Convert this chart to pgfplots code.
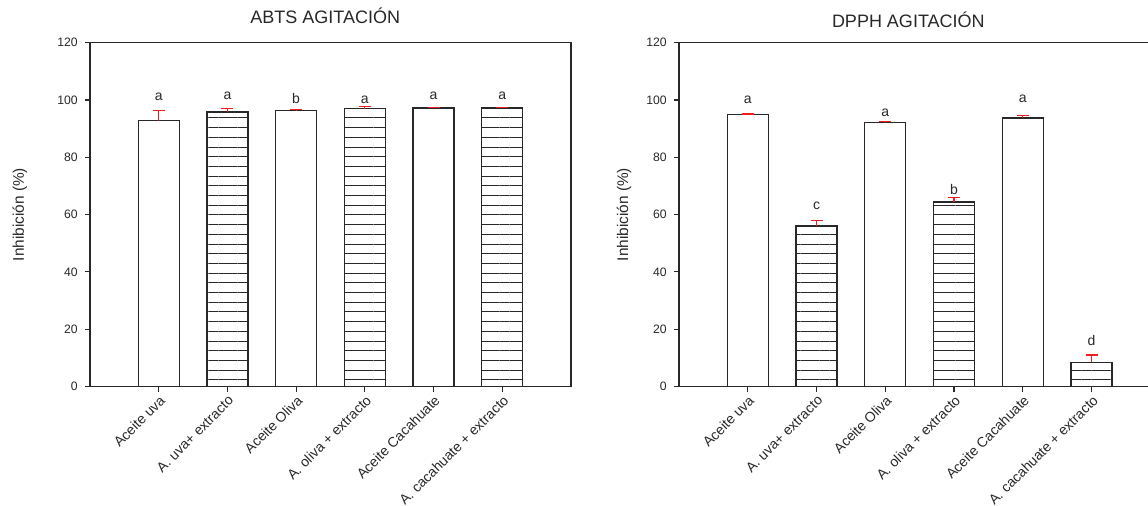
\documentclass[border=0pt]{standalone}
\usepackage{fontspec}
\setmainfont{Liberation Sans}
\usepackage{pgfplots}
\pgfplotsset{compat=1.18}
\usetikzlibrary{patterns.meta}
\definecolor{ax}{RGB}{40,40,40}
\definecolor{eb}{RGB}{240,30,30}
\pgfplotsset{
  mybar/.style={
    scale only axis, height=171.9pt,
    ybar, bar width=20.5pt,
    xmin=-1, ymin=0, ymax=120,
    ytick={0,20,...,120}, xtick={0,...,5},
    xticklabels={Aceite uva, A. uva+ extracto, Aceite Oliva, A. oliva + extracto, Aceite Cacahuate, A. cacahuate + extracto},
    x tick label style={rotate=45, anchor=north east, font=\fontsize{7}{8}\selectfont, inner sep=0.8pt, text=ax},
    y tick label style={font=\fontsize{6.1}{7}\selectfont, text=ax},
    /pgf/number format/assume math mode=true,
    tick align=outside, major tick length=2.6pt,
    tick style={ax, line width=0.6pt},
    axis line style={ax, line width=0.65pt},
    tick pos=left,
    ylabel={Inhibición (\%)},
  },
  errs/.style={error bars/.cd, y dir=plus, y explicit,
    error bar style={eb, line width=0.6pt},
    error mark options={eb, rotate=90, mark size=3pt, line width=0.6pt}},
  plainbar/.style={draw=ax, fill=white, line width=0.65pt, bar shift=0pt, errs},
  hatchbar/.style={draw=ax, line width=0.65pt, bar shift=0pt,
    pattern={Lines[angle=0, distance=4.85pt, line width=0.5pt]}, pattern color=ax, errs},
}
\begin{document}
\begin{tikzpicture}
\useasboundingbox (0,0) rectangle (574pt,253pt);
% ABTS
\begin{axis}[mybar, at={(45pt,59.75pt)}, anchor=south west, width=240.5pt, xmax=6,
  title={ABTS AGITACIÓN},
  every axis title/.style={at={(0.489,1)}, anchor=center, yshift=13.4pt, font=\fontsize{9}{10}\selectfont, text=ax},
  ylabel style={at={(axis description cs:-0.146,0.5)}, anchor=center, font=\fontsize{7.7}{9}\selectfont, text=ax}]
\addplot[plainbar] coordinates {(0,92.8) +- (0,3.6) (2,96.4) +- (0,0.2) (4,97.2) +- (0,0.25)};
\addplot[hatchbar] coordinates {(1,95.8) +- (0,1.1) (3,97.0) +- (0,0.8) (5,97.2) +- (0,0.3)};
\begin{scope}[every node/.style={font=\fontsize{7}{8}\selectfont, text=ax, anchor=center, inner sep=0pt}]
\node at (axis cs:0,101.2) {a};
\node at (axis cs:1,101.4) {a};
\node at (axis cs:2,100.6) {b};
\node at (axis cs:3,100.2) {a};
\node at (axis cs:4,101.4) {a};
\node at (axis cs:5,101.4) {a};
\end{scope}
\end{axis}
% DPPH
\begin{axis}[mybar, at={(339.5pt,59.75pt)}, anchor=south west, width=234.5pt, xmax=5.82,
  axis x line*=box, axis y line*=left,
  title={DPPH AGITACIÓN},
  every axis title/.style={at={(0.489,1)}, anchor=center, yshift=11.5pt, font=\fontsize{9}{10}\selectfont, text=ax},
  ylabel style={at={(axis description cs:-0.117,0.5)}, anchor=center, font=\fontsize{7.7}{9}\selectfont, text=ax}]
\addplot[plainbar] coordinates {(0,94.9) +- (0,0.2) (2,92.2) +- (0,0.2) (4,93.7) +- (0,0.8)};
\addplot[hatchbar] coordinates {(1,56.0) +- (0,1.8) (3,64.4) +- (0,1.6) (5,8.4) +- (0,2.6)};
\begin{scope}[every node/.style={font=\fontsize{7}{8}\selectfont, text=ax, anchor=center, inner sep=0pt}]
\node at (axis cs:0,100.2) {a};
\node at (axis cs:1,63.1) {c};
\node at (axis cs:2,95.7) {a};
\node at (axis cs:3,68.8) {b};
\node at (axis cs:4,100.3) {a};
\node at (axis cs:5,16.1) {d};
\end{scope}
\end{axis}
\end{tikzpicture}
\end{document}
